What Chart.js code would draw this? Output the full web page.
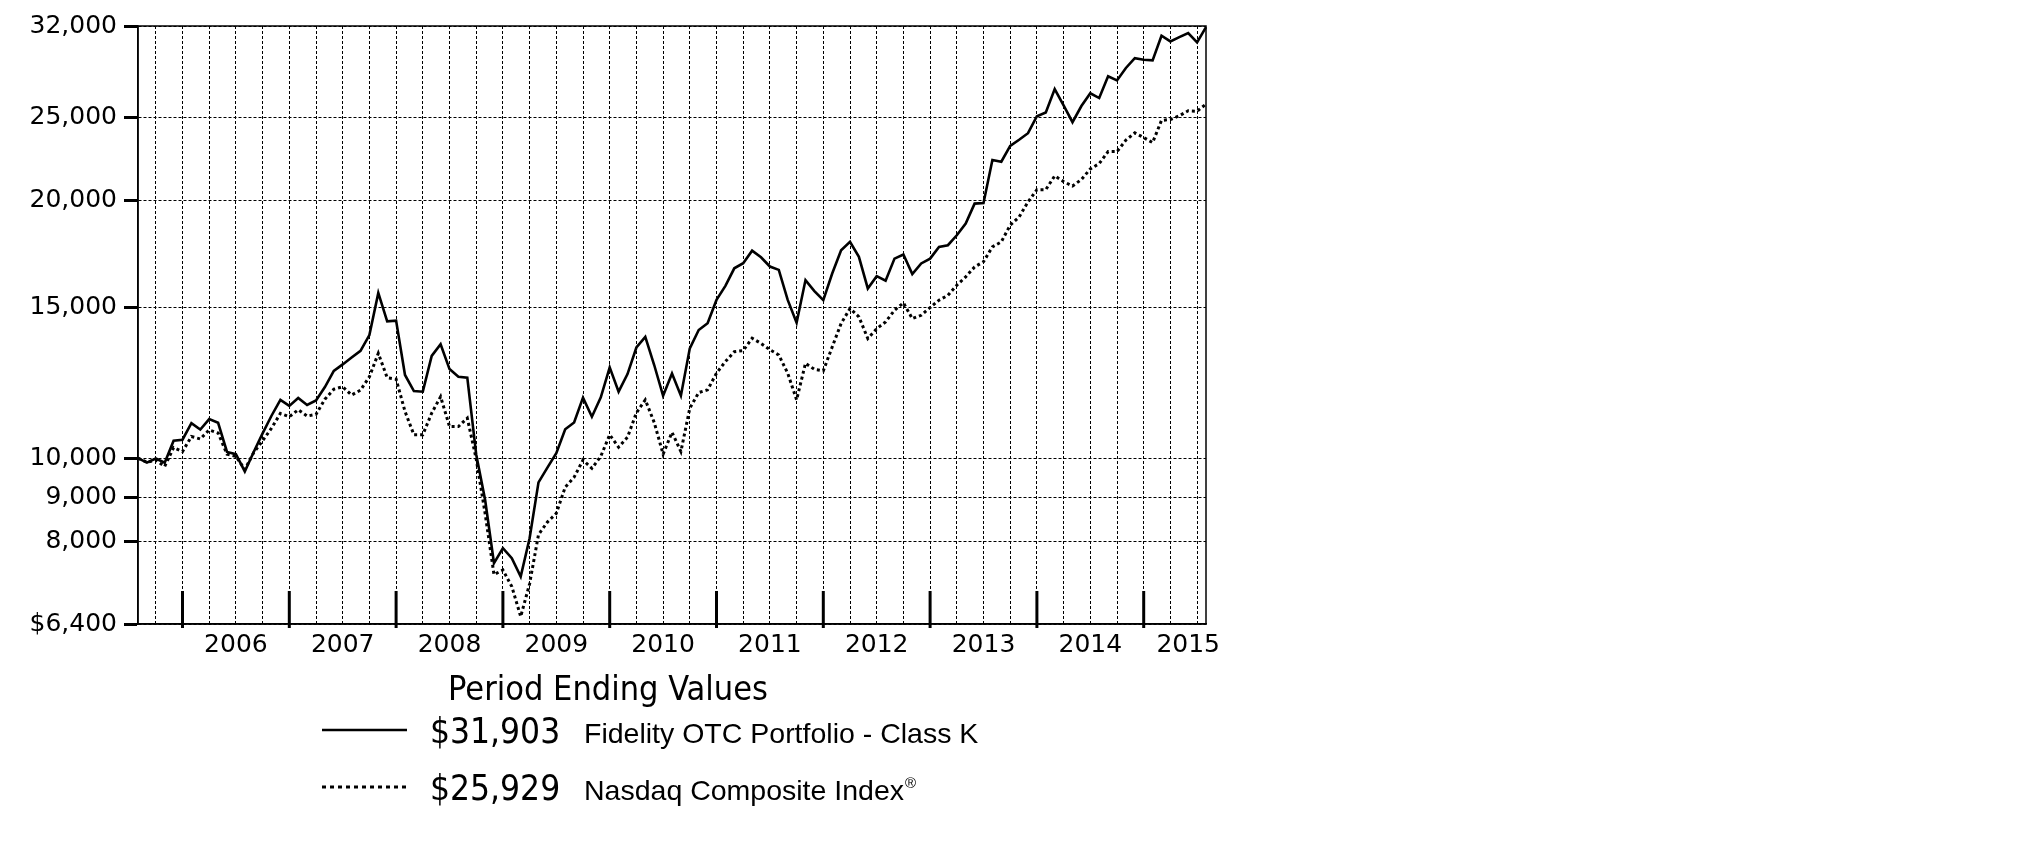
<!DOCTYPE html>
<html>
<head>
<meta charset="utf-8">
<script src="https://cdn.jsdelivr.net/npm/chart.js@4.4.1/dist/chart.umd.min.js"></script>
<style>
  html, body { margin: 0; padding: 0; background: #fff; }
  #wrap { width: 2026px; height: 852px; position: relative; }
</style>
</head>
<body>
<div id="wrap"><canvas id="chart"></canvas></div>
<script>
// monthly points, Jul 2005 .. Jul 2015
const monthNames = ['Jan','Feb','Mar','Apr','May','Jun','Jul','Aug','Sep','Oct','Nov','Dec'];
const monthLabels = Array.from({length: 121}, (_, i) => {
	const m = (6 + i) % 12;
	const y = 2005 + Math.floor((6 + i) / 12);
	return monthNames[m] + ' ' + y;
});

const fidelity = [
	10000, 9880, 9990, 9880, 10480, 10510, 10990, 10800, 11110, 11000, 10170, 10110,
	9650, 10170, 10690, 11210, 11700, 11510, 11760, 11540, 11680, 12110, 12650, 12870,
	13110, 13350, 13930, 15600, 14450, 14480, 12510, 11980, 11960, 13170, 13590, 12710,
	12450, 12420, 10100, 8940, 7540, 7850, 7640, 7270, 8060, 9370, 9750, 10135,
	10810, 11010, 11770, 11180, 11780, 12770, 11960, 12540, 13470, 13860, 12850, 11830,
	12560, 11830, 13440, 14120, 14380, 15310, 15900, 16670, 16900, 17480, 17170, 16750,
	16600, 15310, 14400, 16150, 15680, 15300, 16440, 17500, 17900, 17190, 15790, 16320,
	16120, 17110, 17300, 16410, 16890, 17110, 17660, 17740, 18220, 18800, 19840, 19870,
	22310, 22210, 23170, 23560, 23980, 25100, 25360, 27000, 25840, 24700, 25800, 26700,
	26360, 27950, 27640, 28580, 29350, 29220, 29170, 31170, 30700, 31060, 31400, 30620,
	31903
];
const nasdaq = [
	10000, 9890, 9950, 9780, 10290, 10180, 10600, 10530, 10790, 10700, 10110, 10050,
	9700, 10150, 10480, 10840, 11280, 11180, 11390, 11200, 11250, 11720, 12040, 12120,
	11850, 12010, 12450, 13260, 12420, 12370, 11340, 10650, 10650, 11290, 11800, 10890,
	10890, 11140, 9980, 8620, 7310, 7400, 7080, 6530, 7130, 8140, 8420, 8620,
	9250, 9500, 9950, 9730, 10050, 10650, 10300, 10580, 11300, 11700, 11010, 10110,
	10720, 10180, 11440, 11930, 12020, 12570, 12970, 13320, 13360, 13810, 13620, 13390,
	13200, 12570, 11700, 12910, 12700, 12650, 13490, 14370, 14960, 14630, 13800, 14170,
	14430, 14890, 15190, 14560, 14690, 15000, 15300, 15500, 15930, 16290, 16730, 16970,
	17660, 17900, 18720, 19140, 19930, 20600, 20600, 21380, 21050, 20800, 21170, 21780,
	22100, 22820, 22820, 23540, 24000, 23700, 23380, 24820, 24880, 25130, 25470, 25440,
	25929
];

const yTicks = [6400, 8000, 9000, 10000, 15000, 20000, 25000, 32000];
const yearLabels = ['2006','2007','2008','2009','2010','2011','2012','2013','2014','2015'];
const yearLabelAt = ['Jun 2006','Jun 2007','Jun 2008','Jun 2009','Jun 2010','Jun 2011','Jun 2012','Jun 2013','Jun 2014','May 2015'];
const gridMonths = ['Mar','Jun','Sep','Dec'];

const legendTitle = 'Period Ending Values';
const seriesNames = ['Fidelity OTC Portfolio - Class K', 'Nasdaq Composite Index'];
const endingValues = ['$31,903', '$25,929'];

const FONT = '"DejaVu Sans", Verdana, sans-serif';
const COND = '"DejaVu Sans Condensed", "DejaVu Sans", sans-serif';
const ARIAL = '"Liberation Sans", Arial, sans-serif';

function isGridMonth(i) {
	return gridMonths.includes(monthLabels[i].slice(0, 3));
}

const yearTicks = {
	id: 'yearTicks',
	beforeDatasetsDraw(chart) {
		const {ctx, chartArea, scales: {x}} = chart;
		ctx.save();
		ctx.strokeStyle = '#000';
		ctx.lineWidth = 3;
		monthLabels.forEach((lab, i) => {
			if (!lab.startsWith('Dec')) return;
			const px = x.getPixelForValue(i);
			ctx.beginPath();
			ctx.moveTo(px, chartArea.bottom - 33);
			ctx.lineTo(px, chartArea.bottom + 4);
			ctx.stroke();
		});
		ctx.lineWidth = 1.5;
		ctx.strokeRect(chartArea.left, chartArea.top, chartArea.right - chartArea.left, chartArea.bottom - chartArea.top);
		ctx.restore();
	}
};

const periodLegend = {
	id: 'periodLegend',
	afterDraw(chart) {
		const c = chart.ctx;
		c.save();
		c.fillStyle = '#000';
		c.strokeStyle = '#000';
		c.textBaseline = 'alphabetic';
		c.textAlign = 'center';
		c.font = '34px ' + COND;
		c.fillText(legendTitle, 608, 700);

		const rows = [743, 800];
		rows.forEach((base, i) => {
			c.lineWidth = i === 0 ? 2.5 : 3;
			c.setLineDash(i === 0 ? [] : [4, 4]);
			c.beginPath();
			c.moveTo(322, base - 13);
			c.lineTo(407, base - 13);
			c.stroke();
			c.setLineDash([]);
			c.textAlign = 'left';
			c.font = '35px ' + COND;
			c.fillText(endingValues[i], 430, base);
			c.font = '28.5px ' + ARIAL;
			c.fillText(seriesNames[i], 584, base);
			if (i === 1) {
				const w = c.measureText(seriesNames[i]).width;
				c.font = '15px ' + ARIAL;
				c.fillText('\u00AE', 584 + w + 1, base - 12);
			}
		});
		c.restore();
	}
};

new Chart(document.getElementById('chart'), {
	type: 'line',
	data: {
		labels: monthLabels,
		datasets: [
			{
				label: seriesNames[0],
				data: fidelity,
				borderColor: '#000',
				borderWidth: 2.6,
				pointRadius: 0,
				tension: 0
			},
			{
				label: seriesNames[1],
				data: nasdaq,
				borderColor: '#000',
				borderWidth: 3,
				borderDash: [3, 3],
				pointRadius: 0,
				tension: 0
			}
		]
	},
	options: {
		responsive: true,
		maintainAspectRatio: false,
		animation: false,
		layout: { padding: { left: 0, top: 26, right: 820, bottom: 0 } },
		plugins: { legend: { display: false }, tooltip: { enabled: false } },
		scales: {
			x: {
				type: 'category',
				offset: false,
				grid: {
					color: c => isGridMonth(c.index) ? '#000' : 'rgba(0,0,0,0)',
					lineWidth: 1,
					drawTicks: false
				},
				border: { display: true, color: '#000', width: 1.5, dash: [3, 2] },
				ticks: {
					autoSkip: false,
					maxRotation: 0,
					padding: 6,
					color: '#000',
					font: { family: FONT, size: 25 },
					callback: (v, i) => {
						const k = yearLabelAt.indexOf(monthLabels[i]);
						return k >= 0 ? yearLabels[k] : '';
					}
				},
				afterFit: s => { s.height = 228; }
			},
			y: {
				type: 'logarithmic',
				min: 6400,
				max: 32000,
				afterBuildTicks: s => { s.ticks = yTicks.map(v => ({value: v})); },
				grid: {
					color: '#000',
					lineWidth: 1,
					tickLength: 14,
					tickWidth: 3,
					tickColor: '#000'
				},
				border: { display: true, color: '#000', width: 1.5, dash: [3, 2] },
				ticks: {
					autoSkip: false,
					padding: 7,
					color: '#000',
					font: { family: FONT, size: 25 },
					callback: v => (v === 6400 ? '$' : '') + Number(v).toLocaleString('en-US')
				},
				afterFit: s => { s.width = 138; }
			}
		}
	},
	plugins: [yearTicks, periodLegend]
});
</script>
</body>
</html>
